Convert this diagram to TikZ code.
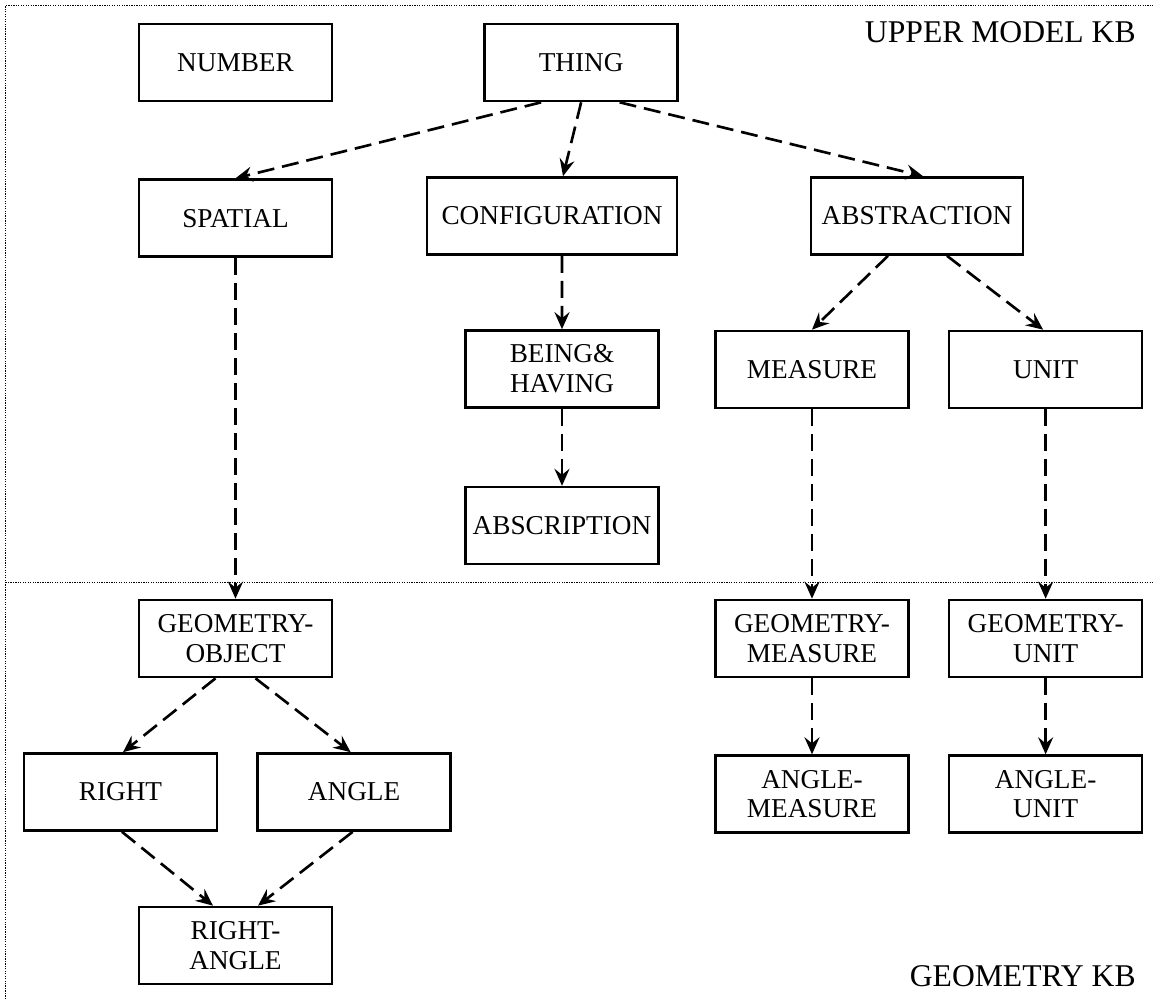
\documentclass[tikz,border=0pt]{standalone}
\usepackage{fontspec}
\setmainfont{Liberation Serif}
\usetikzlibrary{positioning,arrows.meta}

\tikzset{
  kbox/.style={draw, line width=1.5pt, minimum width=3.86cm, minimum height=1.54cm,
    inner sep=0pt, align=center, font=\fontsize{15.5}{17}\selectfont},
  isa/.style={-{Stealth[length=0.34cm,width=0.3cm,inset=0.12cm]}, line width=1.5pt,
    dash pattern=on 0.34cm off 0.16cm},
  kbline/.style={line width=0.5pt, dash pattern=on 0.7pt off 0.7pt},
  kblabel/.style={font=\fontsize{18}{20}\selectfont, anchor=base east, inner sep=0pt}
}

\begin{document}
\begin{tikzpicture}

\useasboundingbox (0,0) rectangle (23.06,-19.98);

% ======================================
% FRAME AND KB LABELS
% ======================================
\coordinate (tl) at (0.11,-0.11);
\coordinate (tr) at (23.06,-0.11);
\coordinate (bl) at (0.11,-19.98);
\coordinate (ml) at (0.11,-11.64);
\coordinate (mr) at (23.06,-11.64);
\draw[kbline] (bl) -- (tl) -- (tr);
\draw[kbline] (ml) -- (mr);

\node[kblabel] (umkb) at (22.72,-0.86) {UPPER MODEL KB};
\node[kblabel] (geokb) at (22.72,-19.72) {GEOMETRY KB};

% ======================================
% UPPER MODEL
% ======================================
\node[kbox] (number) at (4.71,-1.25) {NUMBER};
\node[kbox, right=3.0cm of number] (thing) {THING};

\node[kbox, below=1.52cm of number] (spatial) {SPATIAL};
\node[kbox, minimum width=5cm] (config) at (11.04,-4.32) {CONFIGURATION};
\node[kbox, minimum width=4.24cm] (abstr) at (18.34,-4.32) {ABSTRACTION};

\node[kbox] (being) at (11.24,-7.38) {BEING\&\\HAVING};
\node[kbox, below=1.54cm of being] (abscr) {ABSCRIPTION};

\node[kbox] (measure) at (16.24,-7.39) {MEASURE};
\node[kbox, right=0.76cm of measure] (unit) {UNIT};

\draw[isa] ([xshift=-0.8cm]thing.south) -- (spatial.north);
\draw[isa] (thing.south) -- ([xshift=0.22cm]config.north);
\draw[isa] ([xshift=0.77cm]thing.south) -- ([xshift=0.12cm]abstr.north);
\draw[isa] ([xshift=0.2cm]config.south) -- (being.north);
\draw[isa] (being.south) -- (abscr.north);
\draw[isa] ([xshift=-0.58cm]abstr.south) -- (measure.north);
\draw[isa] ([xshift=0.6cm]abstr.south) -- ([xshift=-0.05cm]unit.north);

% ======================================
% GEOMETRY KB
% ======================================
\node[kbox] (geoobj) at (4.71,-12.77) {GEOMETRY-\\OBJECT};
\node[kbox] (geomeas) at (16.24,-12.77) {GEOMETRY-\\MEASURE};
\node[kbox, right=0.76cm of geomeas] (geounit) {GEOMETRY-\\UNIT};

\node[kbox] (right) at (2.41,-15.84) {RIGHT};
\node[kbox, right=0.76cm of right] (angle) {ANGLE};
\node[kbox] (rangle) at (4.71,-18.91) {RIGHT-\\ANGLE};

\node[kbox, below=1.52cm of geomeas] (angmeas) {ANGLE-\\MEASURE};
\node[kbox, below=1.52cm of geounit] (angunit) {ANGLE-\\UNIT};

\draw[isa] (spatial.south) -- (geoobj.north);
\draw[isa] (measure.south) -- (geomeas.north);
\draw[isa] (unit.south) -- (geounit.north);
\draw[isa] (geomeas.south) -- (angmeas.north);
\draw[isa] (geounit.south) -- (angunit.north);

\draw[isa] ([xshift=-0.4cm]geoobj.south) -- ([xshift=0.05cm]right.north);
\draw[isa] ([xshift=0.4cm]geoobj.south) -- ([xshift=-0.07cm]angle.north);
\draw[isa] ([xshift=0.03cm]right.south) -- ([xshift=-0.45cm]rangle.north);
\draw[isa] ([xshift=-0.03cm]angle.south) -- ([xshift=0.45cm]rangle.north);

\end{tikzpicture}
\end{document}
